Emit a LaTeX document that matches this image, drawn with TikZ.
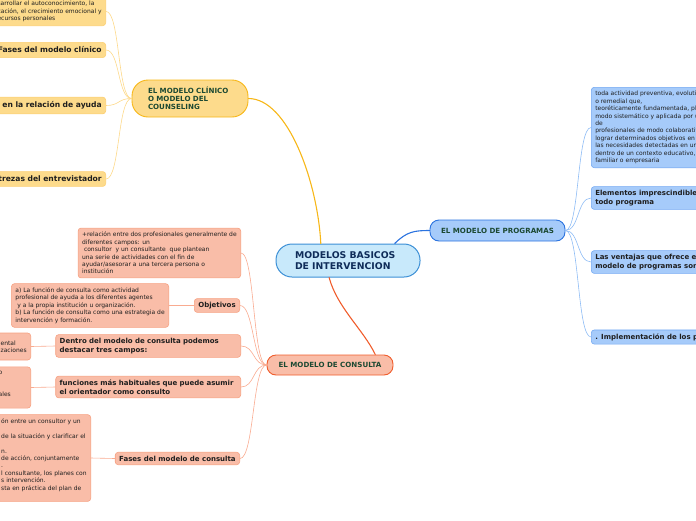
\documentclass[tikz,border=0pt]{standalone}
\usepackage{fontspec}
\setmainfont{DejaVu Sans}
\definecolor{rootfill}{HTML}{C8E9FB}
\definecolor{rootline}{HTML}{3B8FD6}
\definecolor{rootink}{HTML}{0F2C59}
\definecolor{topicink}{HTML}{1C4932}
\definecolor{leafink}{HTML}{1E1E1E}
\definecolor{clinfill}{HTML}{FDDB8C}
\definecolor{clinline}{HTML}{F7B718}
\definecolor{yelline}{HTML}{FCCF72}
\definecolor{yelconn}{HTML}{FDD98A}
\definecolor{consfill}{HTML}{F9BDA8}
\definecolor{consline}{HTML}{F05D2C}
\definecolor{salline}{HTML}{F6A182}
\definecolor{salconn}{HTML}{F9AB90}
\definecolor{progfill}{HTML}{A6CBFA}
\definecolor{progline}{HTML}{2B73DF}
\definecolor{bluline}{HTML}{74A9F2}
\definecolor{bluconn}{HTML}{8EBCF5}
\begin{document}
\begin{tikzpicture}[x=1pt,y=-1pt,line join=round,line cap=round,
	box/.style={rounded corners=3pt,inner xsep=4pt,inner ysep=4pt,align=left,line width=.6pt,text=leafink},
	note/.style={box,font=\fontsize{6}{7.4}\selectfont},
	head/.style={box,inner ysep=3.5pt,font=\bfseries\fontsize{7}{9}\selectfont},
	yhead/.style={box,yel,anchor=east,text width=150pt,align=right,inner ysep=4.5pt,font=\bfseries\fontsize{7.6}{9}\selectfont},
	topic/.style={line width=.9pt,inner sep=0pt,rounded corners=9pt,text=topicink,font=\bfseries\fontsize{7.1}{8}\selectfont},
	yel/.style={fill=clinfill,draw=yelline},
	sal/.style={fill=consfill,draw=salline},
	blu/.style={fill=progfill,draw=bluline},
	link/.style={line width=.6pt}]
	\useasboundingbox (0,0) rectangle (696,520);
	\clip (0,0) rectangle (696,520);
	% centro
	\node[topic,draw=rootline,fill=rootfill,text=rootink,line width=1pt,rounded corners=16pt,minimum height=33pt,text width=106pt,inner xsep=19pt,align=left,font=\bfseries\fontsize{9.3}{11}\selectfont] (root) at (348,260.5) {MODELOS BASICOS\\DE INTERVENCION};
	% modelo clinico
	\node[topic,fill=clinfill,draw=clinline,rounded corners=16pt,minimum height=37pt,text width=84pt,inner xsep=16pt,align=left] (clin) at (190,98.5) {EL MODELO CLÍNICO\\O MODELO DEL\\COUNSELING};
	\node[note,yel,anchor=south east] (clinA) at (106,26) {sarrollar el autoconocimiento, la\\cación, el crecimiento emocional y\\ecursos personales};
	\node[yhead] (clinB) at (106,50) {Fases del modelo clínico};
	\node[yhead] (clinC) at (106,105.5) {en la relación de ayuda};
	\node[yhead] (clinD) at (106,179) {Destrezas del entrevistador};
	% modelo de consulta
	\node[topic,fill=consfill,draw=consline,minimum width=126pt,minimum height=20pt] (cons) at (330,365) {EL MODELO DE CONSULTA};
	\node[note,sal,anchor=east] (consA) at (241,253) {+relación entre dos profesionales generalmente de\\diferentes campos: un\\\ consultor\ \ y un consultante\ \ que plantean\\una serie de actividades con el fin de\\ayudar/asesorar a una tercera persona o\\institución};
	\node[head,sal,anchor=east] (consB) at (240,305.5) {Objetivos};
	\node[note,sal,anchor=east] (consBa) at (169,305.5) {a) La función de consulta como actividad\\profesional de ayuda a los diferentes agentes\\\ y a la propia institución u organización.\\b) La función de consulta como una estrategia de\\intervención y formación.};
	\node[head,sal,anchor=east,text width=177pt] (consC) at (241,346) {Dentro del modelo de consulta podemos\\destacar tres campos:};
	\node[note,sal,anchor=east,minimum height=27pt] (consCa) at (31,346.5) {ental\\zaciones};
	\node[head,sal,anchor=east,text width=177pt] (consD) at (241,387) {funciones más habituales que puede asumir\\el orientador como consulto};
	\node[note,sal,anchor=east,text width=28pt] (consDa) at (31,387.5) {o\\[15pt]ales\\~};
	\node[head,sal,anchor=east] (consE) at (240,458.5) {Fases del modelo de consulta};
	\node[note,sal,anchor=east] (consEa) at (91,458) {ón entre un consultor y un\\~\\de la situación y clarificar el\\~\\n.\\de acción, conjuntamente\\.\\l consultante, los planes con\\s intervención.\\sta en práctica del plan de\\~};
	% modelo de programas
	\node[topic,fill=progfill,draw=progline,minimum width=135pt,minimum height=21pt] (prog) at (497.5,230.5) {EL MODELO DE PROGRAMAS};
	\node[note,blu,anchor=west] (progA) at (591,127.5) {toda actividad preventiva, evolutiva\\o remedial que,\\teoréticamente fundamentada, planificada de\\modo sistemático y aplicada por un equipo\\de\\profesionales de modo colaborativo, pretende\\lograr determinados objetivos en respuesta a\\las necesidades detectadas en un grupo\\dentro de un contexto educativo, comunitario,\\familiar o empresaria};
	\node[head,blu,anchor=west] (progB) at (591,198) {Elementos imprescindibles de\\todo programa};
	\node[head,blu,anchor=west] (progC) at (591,262) {Las ventajas que ofrece el\\modelo de programas son:};
	\node[head,blu,anchor=west] (progD) at (591,337) {. Implementación de los programas};
	% ramas principales
	\draw[line width=1.1pt,clinline] (clin.east) .. controls +(40,0) and +(-3,-60) .. (root.148);
	\draw[line width=1.1pt,consline] (root.222) .. controls +(8,30) and +(-12,-25) .. (cons.13);
	\draw[line width=1.1pt,progline] (root.20) .. controls +(12,-12) and +(-15,0) .. (prog.west);
	% ramas secundarias
	\foreach \n in {clinA,clinB,clinC,clinD}
		\draw[link,yelconn] (clin.west) .. controls +(-14,0) and +(14,0) .. (\n.east);
	\foreach \n in {consA,consB,consC,consD,consE}
		\draw[link,salconn] (cons.west) .. controls +(-14,0) and +(14,0) .. (\n.east);
	\foreach \n in {progA,progB,progC,progD}
		\draw[link,bluconn] (prog.east) .. controls +(14,0) and +(-14,0) .. (\n.west);
	\draw[link,salconn] (consBa.east) -- (consB.west);
	\draw[link,salconn] (consCa.east) -- (consC.west);
	\draw[link,salconn] (consDa.east) -- (consD.west);
	\draw[link,salconn] (consEa.east) -- (consE.west);
\end{tikzpicture}
\end{document}
